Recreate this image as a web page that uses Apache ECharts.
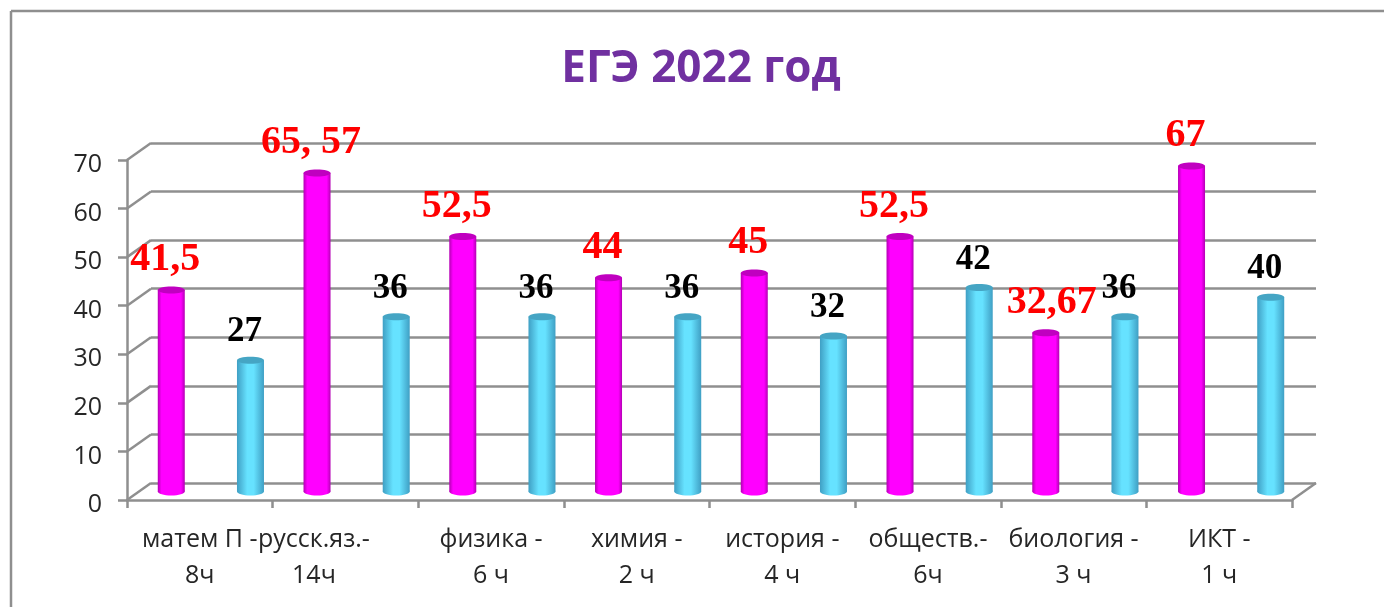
<!DOCTYPE html>
<html>
<head>
<meta charset="utf-8">
<style>
  html, body { margin: 0; padding: 0; background: #fff; }
  #chart { width: 1384px; height: 607px; }
</style>
<script src="https://cdn.jsdelivr.net/npm/echarts@6/dist/echarts.min.js"></script>
</head>
<body>
<div id="chart"></div>
<script>
const categories = ['матем П -\n8ч', 'русск.яз.-\n14ч', 'физика -\n6 ч', 'химия -\n2 ч', 'история -\n4 ч', 'обществ.-\n6ч', 'биология -\n3 ч', 'ИКТ -\n1 ч'];
const redValues = [41.5, 65.57, 52.5, 44, 45, 52.5, 32.67, 67];
const redLabels = ['41,5', '65, 57', '52,5', '44', '45', '52,5', '32,67', '67'];
const blueValues = [27, 36, 36, 36, 32, 42, 36, 40];
const blueLabels = ['27', '36', '36', '36', '32', '42', '36', '40'];
const yTicks = [0, 10, 20, 30, 40, 50, 60, 70];

const AXIS_COLOR = '#8f8f8f';
const TEXT_COLOR = '#262626';
const DEPTH_X = 24;
const DEPTH_Y = 17;
const BAR_WIDTH = 27;
const BAR_OFFSET = 39.6;

const chart = echarts.init(document.getElementById('chart'), null, { renderer: 'canvas' });

function sideGradient(edge, mid, flat) {
    return new echarts.graphic.LinearGradient(0, 0, 1, 0, [
        { offset: 0, color: edge },
        { offset: flat, color: mid },
        { offset: 1 - flat, color: mid },
        { offset: 1, color: edge },
    ]);
}

// цилиндр: тело + верхний эллипс + нижний эллипс + подпись
function cylinderItem(shift, edge, mid, flat, top, labels, labelColor, labelSize, labelY, labelX) {
    return function (params, api) {
        const i = api.value(0);
        const c = api.coord([i, api.value(1)]);
        const base = api.coord([i, 0]);
        const x = c[0] + shift;
        return {
            type: 'group',
            children: [
                {
                    type: 'ellipse',
                    shape: { cx: x, cy: base[1], rx: BAR_WIDTH / 2, ry: 4 },
                    style: { fill: sideGradient(edge, mid, flat) },
                },
                {
                    type: 'rect',
                    shape: { x: x - BAR_WIDTH / 2, y: c[1], width: BAR_WIDTH, height: base[1] - c[1] },
                    style: { fill: sideGradient(edge, mid, flat) },
                },
                {
                    type: 'ellipse',
                    shape: { cx: x, cy: c[1], rx: BAR_WIDTH / 2, ry: 3.5 },
                    style: { fill: top },
                },
                {
                    type: 'text',
                    z2: 100,
                    style: {
                        // подпись 32,67 в оригинале сдвинута вправо от столбика
                        x: x + (labelX && labelX[i] ? labelX[i] : -6),
                        y: c[1] + labelY,
                        text: labels[i],
                        fill: labelColor,
                        font: 'bold ' + labelSize + 'px "Liberation Serif"',
                        align: 'center',
                        verticalAlign: 'middle',
                    },
                },
            ],
        };
    };
}

// диагонали от передней оси к задней стенке
function depthLineItem(params, api) {
    const c = api.coord([0, api.value(0)]);
    const x0 = params.coordSys.x;
    return {
        type: 'line',
        shape: { x1: x0, y1: c[1], x2: x0 + DEPTH_X, y2: c[1] - DEPTH_Y },
        style: { stroke: AXIS_COLOR, lineWidth: 2.5 },
    };
}

function floorEdgeItem(params, api) {
    const c = api.coord([0, api.value(0)]);
    const x0 = params.coordSys.x + params.coordSys.width;
    return {
        type: 'line',
        shape: { x1: x0, y1: c[1], x2: x0 + DEPTH_X, y2: c[1] - DEPTH_Y },
        style: { stroke: AXIS_COLOR, lineWidth: 2.5 },
    };
}

const option = {
    animation: false,
    backgroundColor: '#ffffff',
    title: {
        text: 'ЕГЭ 2022 год',
        left: 696,
        top: 42,
        textAlign: 'center',
        textStyle: { color: '#7030a0', fontFamily: 'Open Sans', fontWeight: 'bold', fontSize: 44 },
    },
    graphic: [
        { type: 'line', shape: { x1: 11, y1: 11, x2: 1384, y2: 11 }, style: { stroke: AXIS_COLOR, lineWidth: 2.5 } },
        { type: 'line', shape: { x1: 11, y1: 11, x2: 11, y2: 607 }, style: { stroke: AXIS_COLOR, lineWidth: 2.5 } },
    ],
    grid: [
        { left: 127, top: 160, width: 1165, height: 340 },
        { left: 151, top: 143, width: 1165, height: 340 },
        { left: 138, top: 151.5, width: 1166, height: 340 },
    ],
    xAxis: [
        {
            gridIndex: 0,
            type: 'category',
            data: categories,
            axisLine: { lineStyle: { color: AXIS_COLOR, width: 2.5 } },
            axisTick: { show: true, alignWithLabel: false, length: 8, lineStyle: { color: AXIS_COLOR, width: 2.5 } },
            axisLabel: {
                interval: 0,
                margin: 22,
                color: TEXT_COLOR,
                fontFamily: 'Open Sans',
                fontSize: 25,
                lineHeight: 36,
                formatter: function (value, index) {
                    if (index !== 1) return value;
                    return value.split('\n').map(s => '{shift|' + s + '}').join('\n');
                },
                rich: { shift: { padding: [0, 63, 0, 0], fontFamily: 'Open Sans', fontSize: 25, lineHeight: 36, color: TEXT_COLOR } },
            },
        },
        { gridIndex: 1, type: 'category', data: categories, show: false },
        { gridIndex: 2, type: 'category', data: categories, show: false },
    ],
    yAxis: [
        {
            gridIndex: 0,
            type: 'value',
            min: 0,
            max: 70,
            interval: 10,
            axisLine: { show: true, lineStyle: { color: AXIS_COLOR, width: 2.5 } },
            axisTick: { show: true, length: 9, lineStyle: { color: AXIS_COLOR, width: 2.5 } },
            splitLine: { show: false },
            axisLabel: { margin: 25, color: TEXT_COLOR, fontFamily: 'Open Sans', fontSize: 25, verticalAlign: 'top', lineHeight: 10 },
        },
        {
            gridIndex: 1,
            type: 'value',
            min: 0,
            max: 70,
            interval: 10,
            axisLine: { show: false },
            axisTick: { show: false },
            axisLabel: { show: false },
            splitLine: { show: true, lineStyle: { color: AXIS_COLOR, width: 2.5 } },
        },
        { gridIndex: 2, type: 'value', min: 0, max: 70, interval: 10, show: false, splitLine: { show: false } },
    ],
    series: [
        {
            type: 'custom',
            xAxisIndex: 0,
            yAxisIndex: 0,
            renderItem: depthLineItem,
            encode: { y: 0 },
            data: yTicks.map(v => [v]),
            silent: true,
            z: 3,
        },
        {
            type: 'custom',
            xAxisIndex: 0,
            yAxisIndex: 0,
            renderItem: floorEdgeItem,
            encode: { y: 0 },
            data: [[0]],
            silent: true,
            z: 3,
        },
        {
            type: 'custom',
            xAxisIndex: 2,
            yAxisIndex: 2,
            renderItem: cylinderItem(-BAR_OFFSET, '#b400b4', '#ff00ff', 0.14, '#c000c0', redLabels, '#ff0000', 40, -30, { 6: 6 }),
            encode: { x: 0, y: 1 },
            data: redValues.map((v, i) => [i, v]),
            silent: true,
            z: 5,
        },
        {
            type: 'custom',
            xAxisIndex: 2,
            yAxisIndex: 2,
            renderItem: cylinderItem(BAR_OFFSET, '#3f9fc4', '#66e2ff', 0.38, '#45a5c4', blueLabels, '#000000', 35, -28),
            encode: { x: 0, y: 1 },
            data: blueValues.map((v, i) => [i, v]),
            silent: true,
            z: 5,
        },
    ],
};

chart.setOption(option);
</script>
</body>
</html>
